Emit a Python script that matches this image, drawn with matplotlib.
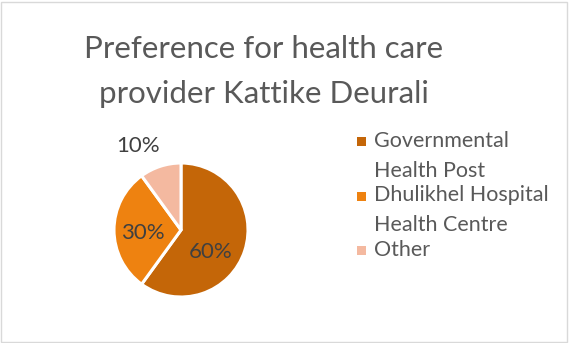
import numpy as np
import matplotlib.pyplot as plt
from matplotlib.patches import Rectangle

plt.rcParams['font.family'] = ['Lato', 'DejaVu Sans']

title_lines = ['Preference for health care', 'provider Kattike Deurali']
labels = [['Governmental', 'Health Post'], ['Dhulikhel Hospital', 'Health Centre'], ['Other']]
shares = [60, 30, 10]
colors = ['#C46608', '#EE8210', '#F4B9A0']

# label placement (angle in degrees, distance as fraction of radius)
label_angle = [-37, 184, 117]
label_dist = [0.55, 0.57, 1.40]

W, H = 569, 343
fig = plt.figure(figsize=(W / 100, H / 100), dpi=100)
fig.patch.set_facecolor('white')
fig.patches.append(Rectangle((1 / W, 1 / H), (W - 3) / W, (H - 3) / H,
                             transform=fig.transFigure, fill=False,
                             edgecolor='#D9D9D9', linewidth=1))

for k, line in enumerate(title_lines):
    fig.text(264 / W, 1 - (58 + 45 * k) / H, line, ha='center', va='baseline',
             fontsize=22.5, color='#595959')

cx, cy, r = 181, 230, 67
ax = fig.add_axes([(cx - r) / W, (H - cy - r) / H, 2 * r / W, 2 * r / H])
wedges, _ = ax.pie(shares, colors=colors, startangle=90, counterclock=False,
                   wedgeprops=dict(edgecolor='white', linewidth=2.2))
ax.set_xlim(-1, 1)
ax.set_ylim(-1, 1)
ax.axis('off')

for v, a, d in zip(shares, label_angle, label_dist):
    t = np.deg2rad(a)
    ax.text(d * np.cos(t), d * np.sin(t), f'{v}%', ha='center', va='center',
            fontsize=16, color='#404040', clip_on=False)

# legend
y0 = 147
for i, (lab, c) in enumerate(zip(labels, colors)):
    y = y0 + 54.5 * i
    fig.patches.append(Rectangle((357 / W, 1 - (y - 1) / H), 9 / W, 9 / H,
                                 transform=fig.transFigure, facecolor=c,
                                 edgecolor='none'))
    for j, line in enumerate(lab):
        fig.text(374 / W, 1 - (y + 29.5 * j) / H, line, ha='left', va='baseline',
                 fontsize=15.5, color='#595959')

fig.savefig('out.png', dpi=100)
